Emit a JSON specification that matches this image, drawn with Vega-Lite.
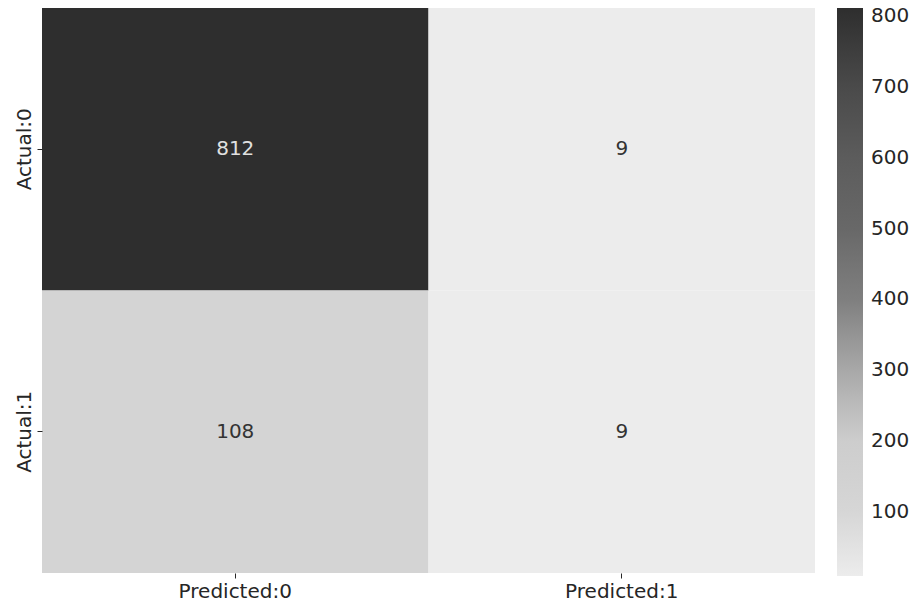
{
  "$schema": "https://vega.github.io/schema/vega-lite/v6.json",
  "autosize": {"type": "none"},
  "width": 773,
  "height": 565,
  "padding": {"left": 42, "top": 8, "right": 104, "bottom": 36},
  "background": "white",
  "config": {
    "font": "DejaVu Sans",
    "view": {"stroke": null},
    "axis": {"labelFont": "DejaVu Sans", "labelFontSize": 20, "labelColor": "#262626", "tickColor": "#262626", "tickSize": 5, "domain": false, "grid": false, "title": null},
    "legend": {"labelFont": "DejaVu Sans", "labelFontSize": 20, "labelColor": "#262626"}
  },
  "data": {
    "values": [
      {"actual": "Actual:0", "predicted": "Predicted:0", "count": 812},
      {"actual": "Actual:0", "predicted": "Predicted:1", "count": 9},
      {"actual": "Actual:1", "predicted": "Predicted:0", "count": 108},
      {"actual": "Actual:1", "predicted": "Predicted:1", "count": 9}
    ]
  },
  "encoding": {
    "x": {"field": "predicted", "type": "nominal", "scale": {"type": "band", "paddingInner": 0, "paddingOuter": 0}, "axis": {"labelAngle": 0, "labelPadding": 3, "orient": "bottom"}},
    "y": {"field": "actual", "type": "nominal", "scale": {"type": "band", "paddingInner": 0, "paddingOuter": 0}, "axis": {"labelAngle": -90, "labelPadding": 3, "labelAlign": "center", "labelBaseline": "bottom"}}
  },
  "layer": [
    {
      "mark": {"type": "rect"},
      "encoding": {
        "color": {
          "field": "count", "type": "quantitative",
          "scale": {"type": "linear", "domain": [9, 108, 200, 300, 400, 500, 600, 700, 812], "range": ["#ececec", "#d4d4d4", "#cdcdcd", "#a8a8a8", "#7f7f7f", "#686868", "#5c5c5c", "#4a4a4a", "#2e2e2e"], "interpolate": "rgb"},
          "legend": {"title": null, "direction": "vertical", "gradientLength": 568, "gradientThickness": 26, "offset": 22, "values": [100, 200, 300, 400, 500, 600, 700, 800], "labelOffset": 8, "gradientStrokeWidth": 0, "padding": 0}
        }
      }
    },
    {
      "mark": {"type": "text", "fontSize": 20, "font": "DejaVu Sans"},
      "encoding": {
        "text": {"field": "count", "type": "quantitative"},
        "color": {"condition": {"test": "datum.count > 400", "value": "#e0e0e0"}, "value": "#333333"}
      }
    }
  ]
}
